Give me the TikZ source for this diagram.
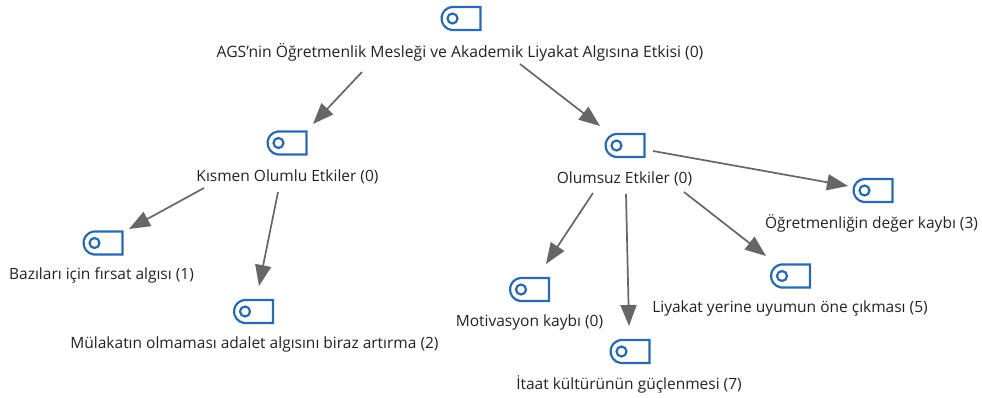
\documentclass[tikz,border=0pt]{standalone}
\usepackage{fontspec}
\setmainfont{Open Sans}
\usetikzlibrary{shapes.misc,arrows.meta}
\definecolor{iconblue}{HTML}{2A69AC}
\definecolor{edgegray}{HTML}{666666}
\definecolor{labeltext}{HTML}{222222}
\tikzset{
  x=1pt,y=-1pt,
  iconbox/.style={rounded rectangle,rounded rectangle right arc=none,rounded rectangle arc length=165,draw=iconblue,line width=2.2pt,minimum width=39pt,minimum height=23pt,inner sep=0pt,outer sep=0pt},
  icondot/.style={circle,draw=iconblue,line width=2.2pt,minimum size=10pt,inner sep=0pt,outer sep=0pt},
  lbl/.style={text=labeltext,font=\fontsize{15.5}{18}\selectfont,inner sep=0pt,anchor=center},
  lblwide/.style={lbl,font=\fontsize{15.7}{18}\selectfont},
  link/.style={draw=edgegray,line width=1.7pt,-{Triangle[length=21pt,width=16pt]}}
}
\newcommand{\iconat}[3]{\node[iconbox] (#1) at (#2,#3) {};\node[icondot] (#1dot) at (#2-8.5,#3) {};}
\begin{document}
\begin{tikzpicture}
\useasboundingbox (0,0) rectangle (982,398);
\iconat{ia}{461}{18.5}
\node[lblwide] (la) at (460,52) {AGS’nin Öğretmenlik Mesleği ve Akademik Liyakat Algısına Etkisi (0)};
\iconat{ib}{287}{143}
\node[lbl] (lb) at (287.5,176.5) {Kısmen Olumlu Etkiler (0)};
\iconat{ic}{625}{145.5}
\node[lbl] (lc) at (624.5,178.5) {Olumsuz Etkiler (0)};
\iconat{id}{873}{190.5}
\node[lbl] (ld) at (871.5,223.5) {Öğretmenliğin değer kaybı (3)};
\iconat{ie}{103}{243}
\node[lbl] (le) at (101.5,275.5) {Bazıları için fırsat algısı (1)};
\iconat{if}{253.5}{311.5}
\node[lbl] (lf) at (254.5,344.5) {Mülakatın olmaması adalet algısını biraz artırma (2)};
\iconat{ig}{529.5}{289.5}
\node[lbl] (lg) at (529.5,322.5) {Motivasyon kaybı (0)};
\iconat{ih}{630}{351.5}
\node[lbl] (lh) at (629,384.5) {İtaat kültürünün güçlenmesi (7)};
\iconat{ii}{790.5}{276}
\node[lbl] (li) at (790,308.5) {Liyakat yerine uyumun öne çıkması (5)};
\path[link] ([shift={(-98,20)}]la.center) -- ([shift={(26,-19)}]ib.center);
\path[link] ([shift={(60,12)}]la.center) -- ([shift={(-25,-19.5)}]ic.center);
\path[link] ([shift={(28,5.5)}]ic.center) -- ([shift={(-25,-4.5)}]id.center);
\path[link] ([shift={(-31.5,14.5)}]lc.center) -- ([shift={(16.5,-25.5)}]ig.center);
\path[link] ([shift={(1.5,15.5)}]lc.center) -- ([shift={(-1,-25.5)}]ih.center);
\path[link] ([shift={(59.5,13.5)}]lc.center) -- ([shift={(-24.5,-20)}]ii.center);
\path[link] ([shift={(-83.5,11.5)}]lb.center) -- ([shift={(26,-14)}]ie.center);
\path[link] ([shift={(-9.5,15.5)}]lb.center) -- ([shift={(5.5,-25.5)}]if.center);
\end{tikzpicture}
\end{document}
